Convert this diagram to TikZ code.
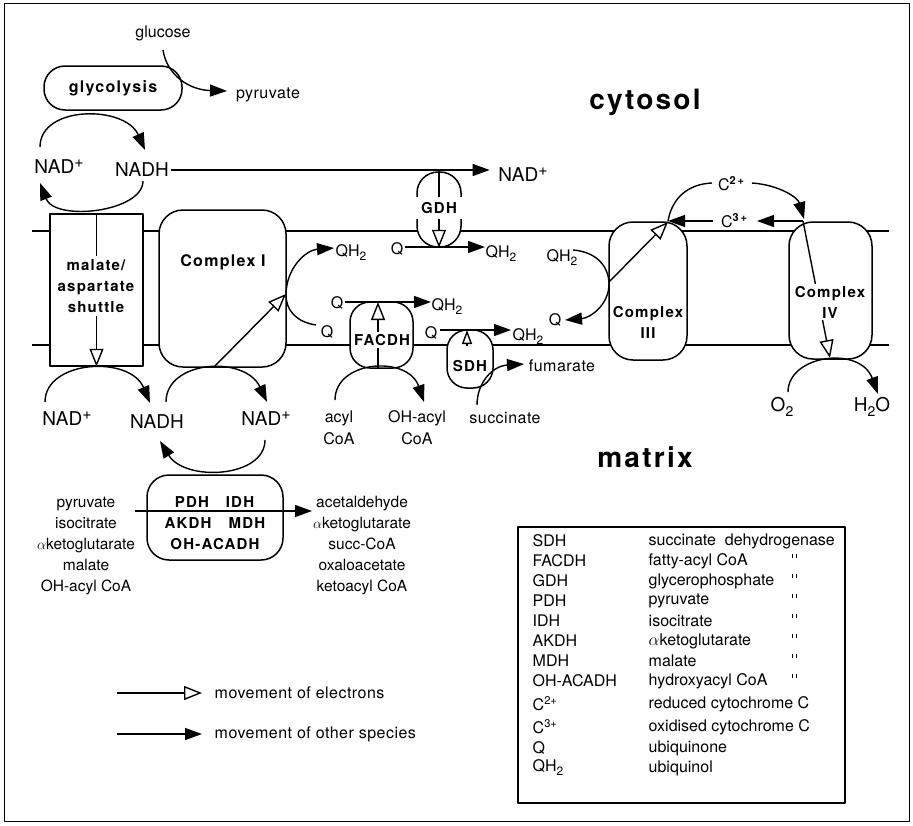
\documentclass[tikz,border=0pt]{standalone}
\usepackage{fontspec}
\setmainfont{TeX Gyre Heros}
\newfontfamily\hvsp[LetterSpace=8]{TeX Gyre Heros}
\newfontfamily\hvls[LetterSpace=3]{TeX Gyre Heros}
\newcommand\plusup{\raisebox{6pt}{\fontsize{16}{16}\selectfont +}}
\newcommand\sbs[1]{\raisebox{-4pt}{\fontsize{12}{12}\selectfont #1}}
\newcommand\sbb[1]{\raisebox{-5pt}{\fontsize{14}{14}\selectfont #1}}
\newcommand\cytc[1]{C\raisebox{6pt}{\fontsize{11}{11}\selectfont\bfseries #1}}
\usetikzlibrary{arrows.meta}
\begin{document}
\begin{tikzpicture}[x=1pt,y=-1pt,line width=1.4pt,line join=round,
  lab/.style={inner sep=1pt,font=\fontsize{16}{22}\selectfont},
  lgt/.style={inner sep=1pt,font=\hvls\fontsize{16}{22}\selectfont},
  big/.style={inner sep=1pt,font=\fontsize{19}{21}\selectfont},
  bl/.style={inner sep=1pt,font=\hvsp\bfseries\fontsize{15}{21}\selectfont},
  blb/.style={inner sep=1pt,font=\hvsp\bfseries\fontsize{16}{21}\selectfont},
  ttl/.style={inner sep=1pt,font=\hvsp\bfseries\fontsize{28}{30}\selectfont},
  box/.style={draw,fill=white,line width=1.5pt},
  tick/.style={line width=0.9pt},
  fa/.style={-{Triangle[length=17pt,width=12pt]}},
  ea/.style={-{Triangle[open,length=18pt,width=14pt,fill=white]}},
  eas/.style={-{Triangle[open,length=14pt,width=10pt,fill=white]}}]
\useasboundingbox (0,0) rectangle (913,825);
\draw[line width=1pt] (4.5,3.5) rectangle (909.5,821.5);

% membranes
\coordinate (mTL) at (32,231); \coordinate (mTR) at (889,231);
\coordinate (mBL) at (32,345); \coordinate (mBR) at (889,345);
\draw (mTL) -- (mTR);
\draw (mBL) -- (mBR);

% boxes
\node[box,blb,rounded corners=21pt,minimum width=138pt,minimum height=44pt] (glyc) at (113,88) {glycolysis};
\node[box,minimum width=93pt,minimum height=152pt] (shut) at (96.5,290) {};
\node[box,rounded corners=24pt,minimum width=127pt,minimum height=157pt] (c1) at (222.5,288.5) {};
\node[box,rounded corners=21pt,minimum width=44pt,minimum height=75pt] (gdh) at (439,209.5) {};
\node[box,rounded corners=20pt,minimum width=63pt,minimum height=66pt] (facdh) at (381.5,335) {};
\node[box,rounded corners=20pt,minimum width=46pt,minimum height=58pt] (sdh) at (470,359) {};
\node[box,rounded corners=24pt,minimum width=78pt,minimum height=138pt] (c3) at (648,291) {};
\node[box,rounded corners=24pt,minimum width=83pt,minimum height=137pt] (c4) at (830.5,290.5) {};
\node[box,rounded corners=22pt,minimum width=136pt,minimum height=85pt] (pdh) at (215,517.5) {};

% glycolysis
\node[lab] (glucose) at (163,33) {glucose};
\node[lgt] (pyr) at (268,95) {pyruvate};
\draw[fa] (163,50) .. controls (167,76) and (190,90) .. (227,91);
\node[big] (nadA) at (59,167) {NAD\plusup};
\node[big] (nadhA) at (142,170) {NADH};
\node[big] (nadG) at (523,175) {NAD\plusup};
\draw[fa] (40,147) .. controls (40,105) and (125,105) .. (145,150);
\draw[fa] (143,181) .. controls (143,212) and (55,222) .. (40,183);
\draw[fa] (nadhA.east) -- (nadhA.east -| nadG.west) [shorten >=7pt];

% shuttle
\draw[ea] (shut.north) -- (shut.south);
\node[bl,fill=white,align=center,inner sep=3pt] (shutt) at (96,286) {malate/\\aspartate\\shuttle};

% complex I
\node[blb] (c1t) at (223,262) {Complex I};
\draw[ea] (214,367) -- (286,294);
\node[lab] (qh2A) at (351,253) {QH\sbs{2}};
\node[lab] (qA) at (327,332) {Q};
\draw[fa] (316,325) .. controls (296,322) and (286,310) .. (286,295) .. controls (286,268) and (306,250) .. (334,248);

% GDH
\node[bl,fill=white,inner sep=5pt] (gdht) at (439,208) {GDH};
\draw (gdh.north) -- (gdht.north);
\draw[ea] (gdht.south) -- (gdh.south);
\node[lab] (qG) at (397,249) {Q};
\node[lab] (qh2G) at (501,254) {QH\sbs{2}};
\draw[fa] (405,247) -- (485,247);

% FACDH
\draw[ea] (378,368) -- (378,302);
\node[bl,fill=white,inner sep=2pt] (facdht) at (382,340) {FACDH};
\node[lab] (qF) at (337,303) {Q};
\node[lab] (qh2F) at (447,307) {QH\sbs{2}};
\draw[fa] (345,302) -- (431,302);
\draw[fa] (335,400) .. controls (335,360) and (408,355) .. (424,402);
\node[lab,align=center] (acyl) at (339,428) {acyl\\CoA};
\node[lab,align=center] (ohacyl) at (417,428) {OH-acyl\\CoA};

% SDH
\node[bl] (sdht) at (470,366) {SDH};
\draw[eas] (467,346) -- (467,330);
\node[lab] (qS) at (431,333) {Q};
\node[lab] (qh2S) at (528,337) {QH\sbs{2}};
\draw[fa] (440,330) -- (511,330);
\draw[fa] (477,405) .. controls (477,383) and (492,366) .. (524,364);
\node[lgt] (succ) at (505,418) {succinate};
\node[lgt] (fum) at (562,366) {fumarate};

% complex III
\node[bl,align=center] (c3t) at (648,322) {Complex\\III};
\draw[ea] (609,282) -- (668,222);
\node[lab] (qh2C) at (562,258) {QH\sbs{2}};
\node[lab] (qC) at (555,320) {Q};
\draw[fa] (573,250) .. controls (598,252) and (609,268) .. (609,284) .. controls (609,305) and (590,318) .. (565,320);

% cytochrome c
\node[lab] (c3p) at (734,221) {\cytc{3\,+}};
\node[lab] (c2p) at (731,184) {\cytc{2\,+}};
\draw[fa] (803,221) -- (757,221);
\draw[fa] (713,221) -- (668,221);
\draw (668,221) .. controls (672,198) and (688,184) .. (712,183);
\draw[fa] (752,183) .. controls (780,185) and (798,198) .. (804,219);

% complex IV
\draw[ea] (803,221) -- (830,358);
\node[bl,align=center,fill=white,inner sep=2pt] (c4t) at (830,302) {Complex\\IV};
\draw[fa] (788,392) .. controls (788,355) and (860,345) .. (878,394);
\node[big] (o2) at (782,407) {O\sbb{2}};
\node[big] (h2o) at (872,407) {H\sbb{2}O};

% matrix NAD cycles
\node[big] (nadB) at (67,419) {NAD\plusup};
\node[big] (nadhB) at (157,422) {NADH};
\node[big] (nadC) at (266,419) {NAD\plusup};
\draw[fa] (45,402) .. controls (45,360) and (130,355) .. (150,403);
\draw[fa] (166,402) .. controls (166,360) and (245,355) .. (267,402);
\draw[fa] (265,440) .. controls (265,478) and (185,482) .. (160,441);

% PDH etc
\node[bl] (pdht) at (192,502) {PDH};
\node[bl] (idht) at (240,502) {IDH};
\node[bl] (akdht) at (188,523) {AKDH};
\node[bl] (mdht) at (247,523) {MDH};
\node[bl] (ohat) at (215,544) {OH-ACADH};
\draw[fa] (135,511) -- (312,511);
\node[lab,align=center,font=\fontsize{15.5}{21}\selectfont] (subs) at (86,546) {pyruvate\\isocitrate\\$\alpha$ketoglutarate\\malate\\OH-acyl CoA};
\node[lab,align=center,font=\fontsize{15.5}{21}\selectfont] (prods) at (362,546) {acetaldehyde\\$\alpha$ketoglutarate\\succ-CoA\\oxaloacetate\\ketoacyl CoA};

% titles
\node[ttl] (cyt) at (645,102) {cytosol};
\node[ttl] (mat) at (645,457) {matrix};

% legend box
\node[draw,line width=1.4pt,minimum width=327pt,minimum height=276pt] (leg) at (681.5,665) {};
\foreach \y/\a/\b in {541/SDH/{succinate\ \ dehydrogenase},561/FACDH/{fatty-acyl CoA},581/GDH/glycerophosphate,601/PDH/pyruvate,621/IDH/isocitrate,641/AKDH/{$\alpha$ketoglutarate},661/MDH/malate,681/OH-ACADH/{hydroxyacyl CoA},704/{C\textsuperscript{2+}}/{reduced cytochrome C},727/{C\textsuperscript{3+}}/{oxidised cytochrome C},748/Q/ubiquinone,768/{QH\sbs{2}}/ubiquinol}
  {\node[lab,anchor=west] at (531,\y) {\a};
   \node[lab,anchor=west] at (647,\y) {\b};}
\foreach \y in {561,581,601,621,641,661,681}
  {\draw[tick] (792,{\y-7}) -- (792,{\y-3});
   \draw[tick] (796,{\y-7}) -- (796,{\y-3});}

% arrow legend
\coordinate (e1) at (117,693); \coordinate (e2) at (202,693);
\coordinate (o1) at (117,734); \coordinate (o2a) at (202,734);
\draw[ea] (e1) -- (e2);
\draw[fa] (o1) -- (o2a);
\node[lgt,anchor=west] (elt) at (213,693) {movement of electrons};
\node[lgt,anchor=west] (oth) at (213,734) {movement of other species};
\end{tikzpicture}
\end{document}
